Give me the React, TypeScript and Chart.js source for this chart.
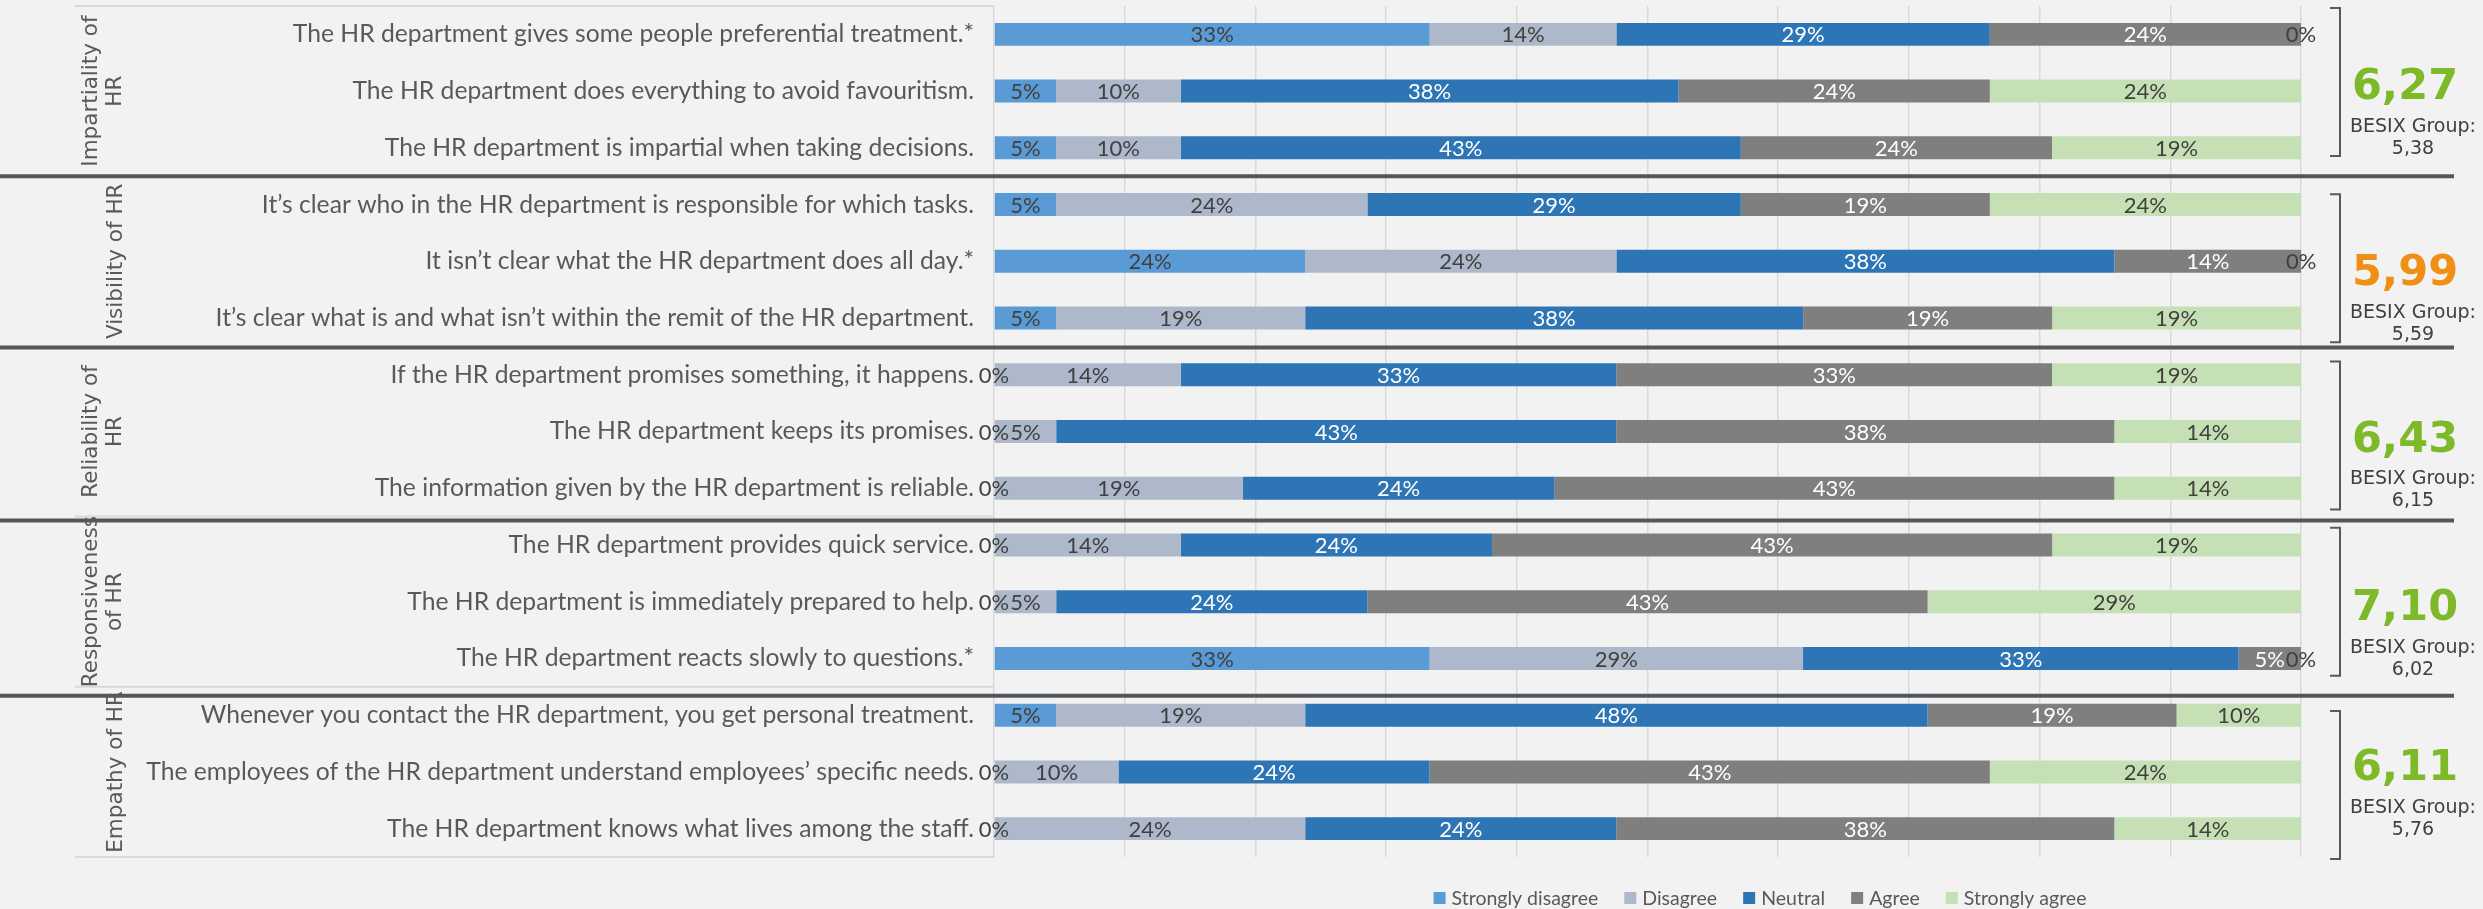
import React, { useEffect, useRef } from "react";
import { Chart, registerables } from "chart.js";

Chart.register(...registerables);

const CANVAS_W = 2483;
const CANVAS_H = 909;

// ---------- data ----------
const statements = [
  "The HR department gives some people preferential treatment.*",
  "The HR department does everything to avoid favouritism.",
  "The HR department is impartial when taking decisions.",
  "It\u2019s clear who in the HR department is responsible for which tasks.",
  "It isn\u2019t clear what the HR department does all day.*",
  "It\u2019s clear what is and what isn\u2019t within the remit of the HR department.",
  "If the HR department promises something, it happens.",
  "The HR department keeps its promises.",
  "The information given by the HR department is reliable.",
  "The HR department provides quick service.",
  "The HR department is immediately prepared to help.",
  "The HR department reacts slowly to questions.*",
  "Whenever you contact the HR department, you get personal treatment.",
  "The employees of the HR department understand employees\u2019 specific needs.",
  "The HR department knows what lives among the staff.",
];

const stronglyDisagree = [33.33, 4.76, 4.76, 4.76, 23.81, 4.76, 0, 0, 0, 0, 0, 33.33, 4.76, 0, 0];
const disagree = [14.29, 9.52, 9.52, 23.81, 23.81, 19.05, 14.29, 4.76, 19.05, 14.29, 4.76, 28.57, 19.05, 9.52, 23.81];
const neutral = [28.57, 38.1, 42.86, 28.57, 38.1, 38.1, 33.33, 42.86, 23.81, 23.81, 23.81, 33.33, 47.62, 23.81, 23.81];
const agree = [23.81, 23.81, 23.81, 19.05, 14.29, 19.05, 33.33, 38.1, 42.86, 42.86, 42.86, 4.76, 19.05, 42.86, 38.1];
const stronglyAgree = [0, 23.81, 19.05, 23.81, 0, 19.05, 19.05, 14.29, 14.29, 19.05, 28.57, 0, 9.52, 23.81, 14.29];

const seriesNames = ["Strongly disagree", "Disagree", "Neutral", "Agree", "Strongly agree"];

const groupTitles = [
  ["Impartiality of", "HR"],
  ["Visibility of HR"],
  ["Reliability of", "HR"],
  ["Responsiveness", "of HR"],
  ["Empathy of HR"],
];
const groupSizes = [3, 3, 3, 3, 3];
const groupScores = [6.27, 5.99, 6.43, 7.1, 6.11];
const besixScores = [5.38, 5.59, 6.15, 6.02, 5.76];

// ---------- style ----------
const barColors = ["#5b9bd5", "#adb9ca", "#2e75b6", "#7f7f7f", "#c5e0b4"];
const labelColors = ["#404040", "#404040", "#ffffff", "#ffffff", "#404040"];
const BG = "#f2f2f2";
const TEXT_GRAY = "#595959";
const SEP_COLOR = "#53575b";
const PANEL_LINE = "#d9d9d9";
const GOOD = "#7db928";
const WARN = "#ef8f13";
const CAL = "Lato, 'Open Sans', sans-serif";
const VER = "'DejaVu Sans', Verdana, sans-serif";

const SEP_SHIFT = [0, 1, 4, 9];
const BRACKET_SHIFT = [-9, 7, 4, 0, 13];
const TEXT_SHIFT = [-8, 8, 4, 2, -8];

const fmt = (v: number) => v.toFixed(2).replace(".", ",");

const decorPlugin = {
  id: "decor",
  beforeDraw(chart: any) {
    const { ctx, chartArea } = chart;
    const y = chart.scales.y;
    ctx.save();
    ctx.fillStyle = BG;
    ctx.fillRect(0, 0, chart.width, chart.height);
    // label panel light lines at group boundaries
    ctx.strokeStyle = PANEL_LINE;
    ctx.lineWidth = 2;
    ctx.beginPath();
    const bounds: number[] = [chartArea.top];
    let idx = 0;
    groupSizes.forEach((n, g) => {
      idx += n;
      if (g < groupSizes.length - 1) {
        bounds.push((y.getPixelForValue(idx - 1) + y.getPixelForValue(idx)) / 2);
      }
    });
    bounds.push(chartArea.bottom);
    bounds.forEach((b) => {
      ctx.moveTo(75, b);
      ctx.lineTo(chartArea.left, b);
    });
    ctx.stroke();
    ctx.restore();
  },
  afterDatasetsDraw(chart: any) {
    const { ctx } = chart;
    ctx.save();
    ctx.font = `22px ${CAL}`;
    ctx.textAlign = "center";
    ctx.textBaseline = "middle";
    chart.data.datasets.forEach((ds: any, i: number) => {
      const meta = chart.getDatasetMeta(i);
      meta.data.forEach((bar: any, j: number) => {
        const v = ds.data[j];
        const cx = (bar.x + bar.base) / 2;
        ctx.fillStyle = labelColors[i];
        ctx.fillText(Math.round(v) + "%", cx, bar.y + 1);
      });
    });
    ctx.restore();
  },
  afterDraw(chart: any) {
    const { ctx } = chart;
    const y = chart.scales.y;
    ctx.save();
    let start = 0;
    groupSizes.forEach((n, g) => {
      const first = y.getPixelForValue(start);
      const last = y.getPixelForValue(start + n - 1);
      const cy = (first + last) / 2;
      // separator below group
      if (g < groupSizes.length - 1) {
        const sy = (last + y.getPixelForValue(start + n)) / 2 + SEP_SHIFT[g];
        ctx.strokeStyle = SEP_COLOR;
        ctx.lineWidth = 4;
        ctx.beginPath();
        ctx.moveTo(0, sy);
        ctx.lineTo(2454, sy);
        ctx.stroke();
      }
      // group title (rotated)
      const lines = groupTitles[g];
      const xs = lines.length === 2 ? [91, 115] : [116];
      ctx.fillStyle = TEXT_GRAY;
      ctx.font = `21.5px ${VER}`;
      ctx.textAlign = "center";
      ctx.textBaseline = "middle";
      lines.forEach((t, k) => {
        ctx.save();
        ctx.translate(xs[k], cy);
        ctx.rotate(-Math.PI / 2);
        ctx.fillText(t, 0, 0);
        ctx.restore();
      });
      // bracket
      const bc = cy + BRACKET_SHIFT[g];
      ctx.strokeStyle = TEXT_GRAY;
      ctx.lineWidth = 2;
      ctx.beginPath();
      ctx.moveTo(2330, bc - 74);
      ctx.lineTo(2340, bc - 74);
      ctx.lineTo(2340, bc + 74);
      ctx.lineTo(2330, bc + 74);
      ctx.stroke();
      // score
      const ty = cy + TEXT_SHIFT[g];
      ctx.fillStyle = groupScores[g] < 6 ? WARN : GOOD;
      ctx.font = `bold 43px ${VER}`;
      ctx.textBaseline = "alphabetic";
      ctx.fillText(fmt(groupScores[g]), 2405, ty + 16);
      ctx.fillStyle = "#404040";
      ctx.font = `19px ${VER}`;
      ctx.textBaseline = "middle";
      ctx.fillText("BESIX Group:", 2413, ty + 44);
      ctx.fillText(fmt(besixScores[g]), 2413, ty + 66);
      start += n;
    });

    // legend
    ctx.font = `19.5px ${CAL}`;
    ctx.textAlign = "left";
    ctx.textBaseline = "middle";
    const sq = 12, gapT = 6, gapI = 26;
    const widths = seriesNames.map((s) => ctx.measureText(s).width);
    const total = widths.reduce((a, w) => a + sq + gapT + w, 0) + gapI * (seriesNames.length - 1);
    let lx = 1760 - total / 2;
    const ly = 898;
    seriesNames.forEach((s, i) => {
      ctx.fillStyle = barColors[i];
      ctx.fillRect(lx, ly - sq / 2, sq, sq);
      ctx.fillStyle = TEXT_GRAY;
      ctx.fillText(s, lx + sq + gapT, ly + 1);
      lx += sq + gapT + widths[i] + gapI;
    });
    ctx.restore();
  },
};

export default function App() {
  const ref = useRef<HTMLCanvasElement>(null);
  useEffect(() => {
    if (!ref.current) return;
    const series = [stronglyDisagree, disagree, neutral, agree, stronglyAgree];
    const chart = new Chart(ref.current, {
      type: "bar",
      data: {
        labels: statements,
        datasets: series.map((d, i) => ({
          label: seriesNames[i],
          data: d,
          backgroundColor: barColors[i],
          borderWidth: 0,
          barPercentage: 0.405,
          categoryPercentage: 1,
        })),
      },
      options: {
        indexAxis: "y",
        responsive: false,
        animation: false,
        devicePixelRatio: 1,
        layout: { padding: { left: 0, right: 182, top: 6, bottom: 52 } },
        plugins: { legend: { display: false }, tooltip: { enabled: false } },
        scales: {
          x: {
            stacked: true,
            min: 0,
            max: 100,
            ticks: { display: false, stepSize: 10 },
            grid: { color: "#d9d9d9", lineWidth: 1.5, drawTicks: false },
            border: { display: false },
            afterFit: (s: any) => {
              s.height = 0;
              s.paddingLeft = 0;
              s.paddingRight = 0;
            },
          },
          y: {
            stacked: true,
            ticks: {
              autoSkip: false,
              padding: 20,
              color: TEXT_GRAY,
              font: { family: CAL, size: 24.7 },
            },
            grid: { display: false, drawTicks: false },
            border: { display: false },
            afterFit: (s: any) => {
              s.width = 994;
              s.paddingTop = 0;
              s.paddingBottom = 0;
            },
          },
        },
      },
      plugins: [decorPlugin],
    } as any);
    return () => chart.destroy();
  }, []);
  return (
    <div style={{ position: "absolute", left: 0, top: 0, width: CANVAS_W, height: CANVAS_H, background: BG }}>
      <canvas ref={ref} width={CANVAS_W} height={CANVAS_H} style={{ display: "block" }} />
    </div>
  );
}
